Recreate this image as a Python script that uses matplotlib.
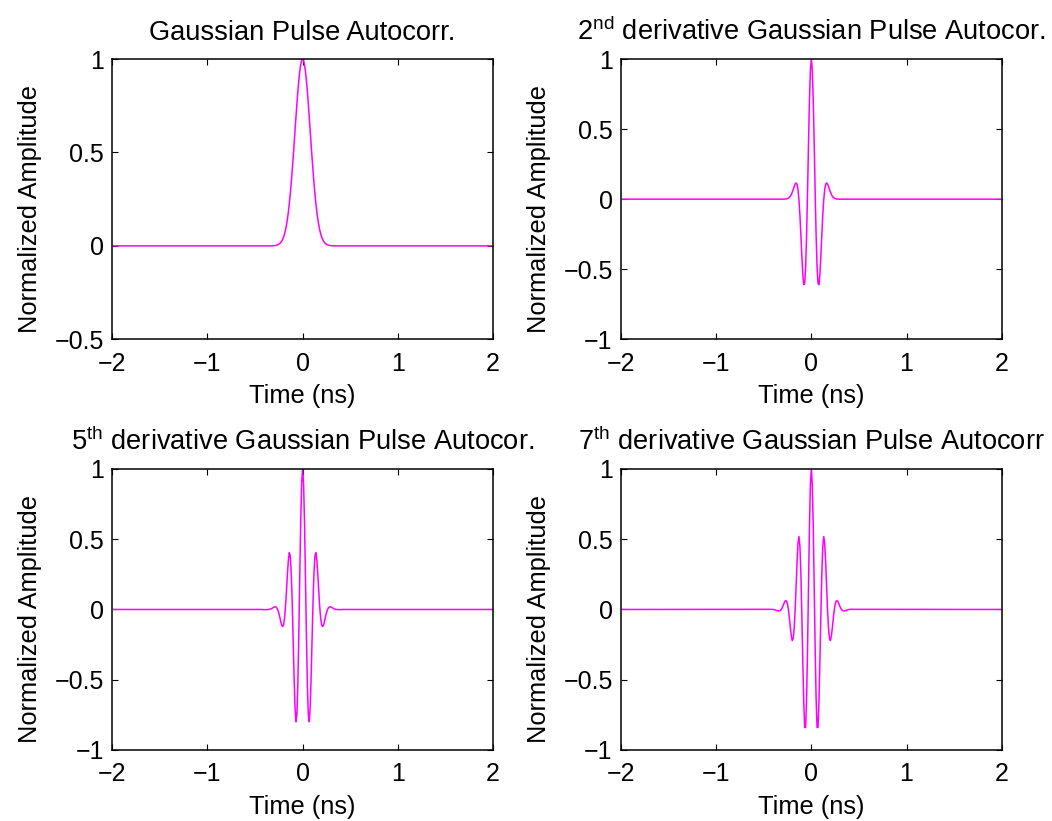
import matplotlib
matplotlib.use("Agg")
import matplotlib.pyplot as plt

# ---------------- data ----------------
time_ns = [-2.0,
           -0.45, -0.44, -0.43, -0.42, -0.41, -0.40, -0.39, -0.38, -0.37, -0.36,
           -0.35, -0.34, -0.33, -0.32, -0.31, -0.30, -0.29, -0.28, -0.27, -0.26,
           -0.25, -0.24, -0.23, -0.22, -0.21, -0.20, -0.19, -0.18, -0.17, -0.16,
           -0.15, -0.14, -0.13, -0.12, -0.11, -0.10, -0.09, -0.08, -0.07, -0.06,
           -0.05, -0.04, -0.03, -0.02, -0.01,
           0.00,
           0.01, 0.02, 0.03, 0.04, 0.05, 0.06, 0.07, 0.08, 0.09, 0.10,
           0.11, 0.12, 0.13, 0.14, 0.15, 0.16, 0.17, 0.18, 0.19, 0.20,
           0.21, 0.22, 0.23, 0.24, 0.25, 0.26, 0.27, 0.28, 0.29, 0.30,
           0.31, 0.32, 0.33, 0.34, 0.35, 0.36, 0.37, 0.38, 0.39, 0.40,
           0.41, 0.42, 0.43, 0.44, 0.45,
           2.0]

gauss_autocorr = [0.0,
    0.000, 0.000, 0.000, 0.000, 0.000, 0.000, 0.000, 0.000, 0.000, 0.000,
    0.000, 0.000, 0.000, 0.000, 0.001, 0.001, 0.002, 0.003, 0.004, 0.006,
    0.009, 0.012, 0.018, 0.025, 0.035, 0.047, 0.064, 0.085, 0.111, 0.142,
    0.180, 0.225, 0.276, 0.334, 0.398, 0.467, 0.539, 0.614, 0.688, 0.760,
    0.827, 0.885, 0.934, 0.970, 0.992,
    1.000,
    0.992, 0.970, 0.934, 0.885, 0.827, 0.760, 0.688, 0.614, 0.539, 0.467,
    0.398, 0.334, 0.276, 0.225, 0.180, 0.142, 0.111, 0.085, 0.064, 0.047,
    0.035, 0.025, 0.018, 0.012, 0.009, 0.006, 0.004, 0.003, 0.002, 0.001,
    0.001, 0.000, 0.000, 0.000, 0.000, 0.000, 0.000, 0.000, 0.000, 0.000,
    0.000, 0.000, 0.000, 0.000, 0.000,
    0.0]

d2_autocorr = [0.0,
    0.000, 0.000, 0.000, 0.000, 0.000, 0.000, 0.000, 0.000, 0.000, 0.000,
    0.000, 0.000, 0.000, 0.000, 0.000, 0.000, 0.000, 0.001, 0.001, 0.002,
    0.004, 0.008, 0.013, 0.022, 0.034, 0.051, 0.070, 0.091, 0.108, 0.116,
    0.105, 0.067, -0.007, -0.116, -0.255, -0.404, -0.534, -0.610, -0.600, -0.483,
    -0.257, 0.051, 0.393, 0.704, 0.922,
    1.000,
    0.922, 0.704, 0.393, 0.051, -0.257, -0.483, -0.600, -0.610, -0.534, -0.404,
    -0.255, -0.116, -0.007, 0.067, 0.105, 0.116, 0.108, 0.091, 0.070, 0.051,
    0.034, 0.022, 0.013, 0.008, 0.004, 0.002, 0.001, 0.001, 0.000, 0.000,
    0.000, 0.000, 0.000, 0.000, 0.000, 0.000, 0.000, 0.000, 0.000, 0.000,
    0.000, 0.000, 0.000, 0.000, 0.000,
    0.0]

d5_autocorr = [0.0,
    0.000, 0.000, 0.000, 0.000, -0.001, -0.001, -0.001, -0.001, -0.001, 0.000,
    0.001, 0.002, 0.005, 0.009, 0.013, 0.017, 0.019, 0.017, 0.010, -0.004,
    -0.026, -0.054, -0.085, -0.111, -0.122, -0.109, -0.063, 0.017, 0.126, 0.245,
    0.348, 0.404, 0.383, 0.270, 0.067, -0.197, -0.471, -0.692, -0.799, -0.748,
    -0.533, -0.184, 0.231, 0.621, 0.899,
    1.000,
    0.899, 0.621, 0.231, -0.184, -0.533, -0.748, -0.799, -0.692, -0.471, -0.197,
    0.067, 0.270, 0.383, 0.404, 0.348, 0.245, 0.126, 0.017, -0.063, -0.109,
    -0.122, -0.111, -0.085, -0.054, -0.026, -0.004, 0.010, 0.017, 0.019, 0.017,
    0.013, 0.009, 0.005, 0.002, 0.001, 0.000, -0.001, -0.001, -0.001, -0.001,
    -0.001, 0.000, 0.000, 0.000, 0.000,
    0.0]

d7_autocorr = [0.0,
    0.001, 0.001, 0.001, 0.001, 0.001, 0.000, -0.001, -0.003, -0.006, -0.008,
    -0.010, -0.011, -0.009, -0.003, 0.007, 0.022, 0.039, 0.055, 0.063, 0.059,
    0.037, -0.006, -0.066, -0.133, -0.191, -0.221, -0.205, -0.131, 0.000, 0.169,
    0.341, 0.473, 0.519, 0.447, 0.253, -0.037, -0.365, -0.655, -0.840, -0.840,
    -0.632, -0.278, 0.161, 0.585, 0.889,
    1.000,
    0.889, 0.585, 0.161, -0.278, -0.632, -0.840, -0.840, -0.655, -0.365, -0.037,
    0.253, 0.447, 0.519, 0.473, 0.341, 0.169, 0.000, -0.131, -0.205, -0.221,
    -0.191, -0.133, -0.066, -0.006, 0.037, 0.059, 0.063, 0.055, 0.039, 0.022,
    0.007, -0.003, -0.009, -0.011, -0.010, -0.008, -0.006, -0.003, -0.001, 0.000,
    0.001, 0.001, 0.001, 0.001, 0.001,
    0.0]

titles = ["Gaussian Pulse Autocorr.",
          r"2$^{\mathrm{nd}}$ derivative Gaussian Pulse Autocor.",
          r"5$^{\mathrm{th}}$ derivative Gaussian Pulse Autocor.",
          r"7$^{\mathrm{th}}$ derivative Gaussian Pulse Autocorr"]
series = [gauss_autocorr, d2_autocorr, d5_autocorr, d7_autocorr]

x_ticks = [-2, -1, 0, 1, 2]
x_ticklabels = ["\u22122", "\u22121", "0", "1", "2"]
y_ticks_first = [-0.5, 0, 0.5, 1]
y_ticklabels_first = ["\u22120.5", "0", "0.5", "1"]
y_ticks_other = [-1, -0.5, 0, 0.5, 1]
y_ticklabels_other = ["\u22121", "\u22120.5", "0", "0.5", "1"]
x_label = "Time (ns)"
y_label = "Normalized Amplitude"

# ---------------- style ----------------
plt.rcParams["font.family"] = ["Liberation Sans", "DejaVu Sans"]
plt.rcParams["mathtext.fontset"] = "custom"
plt.rcParams["mathtext.rm"] = "Liberation Sans"
plt.rcParams["mathtext.it"] = "Liberation Sans:italic"
plt.rcParams["mathtext.bf"] = "Liberation Sans:bold"

FS_TICK = 18
FS_LABEL = 18.3
FS_TITLE = 19.6
fig = plt.figure(figsize=(10.52, 8.21), dpi=100)

positions = [
    [0.1067, 0.5867, 0.3619, 0.3414],
    [0.5903, 0.5867, 0.3619, 0.3414],
    [0.1067, 0.0865, 0.3619, 0.3423],
    [0.5903, 0.0865, 0.3619, 0.3423],
]

for i, (pos, ys, ttl) in enumerate(zip(positions, series, titles)):
    ax = fig.add_axes(pos)
    ax.plot(time_ns, ys, color=(1, 0, 1), linewidth=1.1)
    ax.set_xlim(-2, 2)
    if i == 0:
        ax.set_ylim(-0.5, 1)
        ax.set_yticks(y_ticks_first, y_ticklabels_first)
    else:
        ax.set_ylim(-1, 1)
        ax.set_yticks(y_ticks_other, y_ticklabels_other)
    ax.set_xticks(x_ticks, x_ticklabels)
    ax.tick_params(direction="in", length=4, width=0.8, top=True, right=True,
                   labelsize=FS_TICK)
    ax.tick_params(axis="x", pad=9)
    ax.tick_params(axis="y", pad=6)
    for sp in ax.spines.values():
        sp.set_linewidth(1.1)
    ax.set_title(ttl, fontsize=FS_TITLE, pad=14)
    ax.set_xlabel(x_label, fontsize=FS_LABEL, labelpad=6)
    ax.set_ylabel(y_label, fontsize=FS_LABEL)
    ax.yaxis.set_label_coords(-0.185, 0.465)

fig.savefig("out.png", dpi=100)
